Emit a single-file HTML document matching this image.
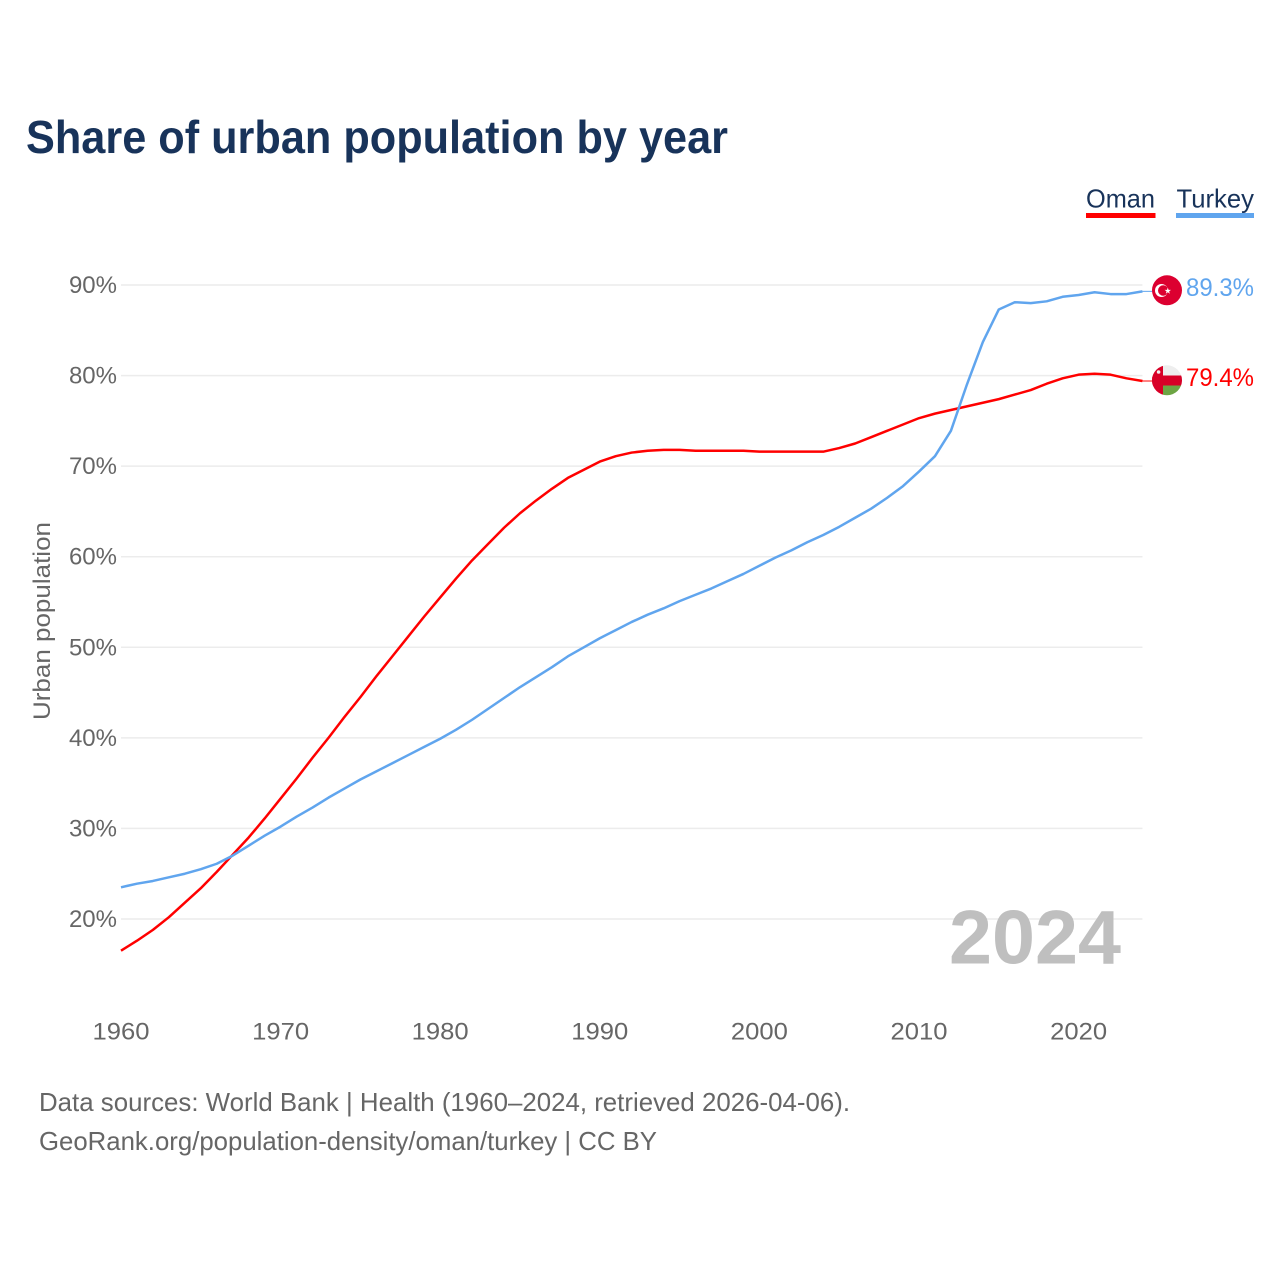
<!DOCTYPE html>
<html lang="en">
<head>
<meta charset="utf-8">
<title>Share of urban population by year</title>
<style>
html,body{margin:0;padding:0;background:#fff;width:1280px;height:1280px;overflow:hidden}
svg{display:block}
text{font-family:"Liberation Sans",sans-serif}
</style>
</head>
<body>
<svg id="chart" width="1280" height="1280" viewBox="0 0 1280 1280" xmlns="http://www.w3.org/2000/svg">
  <defs>
    <clipPath id="oman-clip"><circle cx="1167" cy="380.3" r="15"/></clipPath>
  </defs>
  <text x="26" y="153" font-size="46" font-weight="700" fill="#18335a" textLength="702" lengthAdjust="spacingAndGlyphs">Share of urban population by year</text>

  <g>
    <text x="1086" y="207.5" font-size="26" fill="#18335a" textLength="69" lengthAdjust="spacingAndGlyphs">Oman</text>
    <rect x="1086" y="213" width="69.5" height="5" fill="#ff0000"/>
  </g>
  <g>
    <text x="1176.5" y="207.5" font-size="26" fill="#18335a" textLength="77.5" lengthAdjust="spacingAndGlyphs">Turkey</text>
    <rect x="1176" y="213" width="78" height="5" fill="#60a5ee"/>
  </g>

  <g id="grid"></g>
  <g id="y-ticks"></g>
  <g id="x-ticks"></g>

  <text transform="translate(50,621) rotate(-90)" text-anchor="middle" font-size="24" fill="#666666" textLength="198" lengthAdjust="spacingAndGlyphs">Urban population</text>

  <text x="949" y="963.5" font-size="76" font-weight="700" fill="#bfbfbf" textLength="172" lengthAdjust="spacingAndGlyphs">2024</text>

  <g id="series"></g>

  <g>
    <circle cx="1167" cy="290.3" r="15" fill="#dc0030"/>
    <circle cx="1161.5" cy="290.5" r="6.5" fill="#ffffff"/>
    <circle cx="1163.2" cy="290.5" r="5.2" fill="#dc0030"/>
    <polygon points="1167.8,287.6 1168.6,289.9 1171,289.9 1169.1,291.4 1169.8,293.7 1167.8,292.3 1165.8,293.7 1166.5,291.4 1164.6,289.9 1167,289.9" fill="#ffffff"/>
  </g>
  <g clip-path="url(#oman-clip)">
    <rect x="1152" y="365" width="30" height="11" fill="#eeeeee"/>
    <rect x="1152" y="375.5" width="30" height="10" fill="#d80027"/>
    <rect x="1152" y="365" width="11" height="32" fill="#d80027"/>
    <rect x="1163" y="385.5" width="19" height="11" fill="#6da544"/>
    <circle cx="1158.6" cy="372" r="1.8" fill="#eeeeee"/>
  </g>

  <text x="1186" y="296" font-size="25" fill="#60a5ee" textLength="68" lengthAdjust="spacingAndGlyphs">89.3%</text>
  <text x="1186" y="386" font-size="25" fill="#ff0000" textLength="68" lengthAdjust="spacingAndGlyphs">79.4%</text>

  <text x="39" y="1111" font-size="26" fill="#666666" textLength="811" lengthAdjust="spacingAndGlyphs">Data sources: World Bank | Health (1960–2024, retrieved 2026-04-06).</text>
  <text x="39" y="1150" font-size="26" fill="#666666" textLength="618" lengthAdjust="spacingAndGlyphs">GeoRank.org/population-density/oman/turkey | CC BY</text>
</svg>
<script>
const years = [1960,1961,1962,1963,1964,1965,1966,1967,1968,1969,1970,1971,1972,1973,1974,1975,1976,1977,1978,1979,1980,1981,1982,1983,1984,1985,1986,1987,1988,1989,1990,1991,1992,1993,1994,1995,1996,1997,1998,1999,2000,2001,2002,2003,2004,2005,2006,2007,2008,2009,2010,2011,2012,2013,2014,2015,2016,2017,2018,2019,2020,2021,2022,2023,2024];
const omanValues = [16.5,17.6,18.8,20.2,21.8,23.4,25.2,27.1,29.0,31.1,33.3,35.5,37.8,40.0,42.3,44.5,46.8,49.0,51.2,53.4,55.5,57.6,59.6,61.4,63.2,64.8,66.2,67.5,68.7,69.6,70.5,71.1,71.5,71.7,71.8,71.8,71.7,71.7,71.7,71.7,71.6,71.6,71.6,71.6,71.6,72.0,72.5,73.2,73.9,74.6,75.3,75.8,76.2,76.6,77.0,77.4,77.9,78.4,79.1,79.7,80.1,80.2,80.1,79.7,79.4];
const turkeyValues = [23.5,23.9,24.2,24.6,25.0,25.5,26.1,27.0,28.1,29.2,30.2,31.3,32.3,33.4,34.4,35.4,36.3,37.2,38.1,39.0,39.9,40.9,42.0,43.2,44.4,45.6,46.7,47.8,49.0,50.0,51.0,51.9,52.8,53.6,54.3,55.1,55.8,56.5,57.3,58.1,59.0,59.9,60.7,61.6,62.4,63.3,64.3,65.3,66.5,67.8,69.4,71.1,73.9,79.0,83.7,87.3,88.1,88.0,88.2,88.7,88.9,89.2,89.0,89.0,89.3];
const yTickValues = [20,30,40,50,60,70,80,90];
const xTickValues = [1960,1970,1980,1990,2000,2010,2020];

const NS = 'http://www.w3.org/2000/svg';
function xScale(year){ return 121 + (year - 1960) * 15.96; }
function yScale(v){ return 919 - (v - 20) * 9.057; }

const gridG = document.getElementById('grid');
const yG = document.getElementById('y-ticks');
const xG = document.getElementById('x-ticks');
const seriesG = document.getElementById('series');

yTickValues.forEach(function(v){
  const line = document.createElementNS(NS,'line');
  
  
  line.setAttribute('x1', 121);
  line.setAttribute('x2', xScale(2024));
  line.setAttribute('y1', yScale(v));
  line.setAttribute('y2', yScale(v));
  line.setAttribute('stroke', '#ececec');
  line.setAttribute('stroke-width', '1.5');
  gridG.appendChild(line);

  const t = document.createElementNS(NS,'text');
  
  
  t.setAttribute('x', 117);
  t.setAttribute('y', yScale(v) + 8);
  t.setAttribute('text-anchor', 'end');
  t.setAttribute('font-size', '24');
  t.setAttribute('fill', '#666666');
  t.textContent = v + '%';
  yG.appendChild(t);
});

xTickValues.forEach(function(y){
  const t = document.createElementNS(NS,'text');
  
  
  t.setAttribute('x', xScale(y));
  t.setAttribute('y', 1039.5);
  t.setAttribute('text-anchor', 'middle');
  t.setAttribute('font-size', '24.5');
  t.setAttribute('textLength', '57');
  t.setAttribute('lengthAdjust', 'spacingAndGlyphs');
  t.setAttribute('fill', '#666666');
  t.textContent = y;
  xG.appendChild(t);
});

function drawSeries(values, color, name){
  const d = values.map(function(v,i){
    return (i ? 'L' : 'M') + xScale(years[i]).toFixed(2) + ' ' + yScale(v).toFixed(2);
  }).join(' ');
  const p = document.createElementNS(NS,'path');
  
  
  p.setAttribute('d', d);
  p.setAttribute('fill', 'none');
  p.setAttribute('stroke', color);
  p.setAttribute('stroke-width', '2.5');
  p.setAttribute('stroke-linejoin', 'round');
  seriesG.appendChild(p);

  const last = values[values.length - 1];
  const c = document.createElementNS(NS,'line');
  
  
  c.setAttribute('x1', xScale(years[years.length - 1]));
  c.setAttribute('x2', 1153);
  c.setAttribute('y1', yScale(last));
  c.setAttribute('y2', yScale(last));
  c.setAttribute('stroke', color);
  c.setAttribute('stroke-width', '1');
  seriesG.appendChild(c);
}
drawSeries(omanValues, '#ff0000', 'line-oman');
drawSeries(turkeyValues, '#60a5ee', 'line-turkey');
</script>
</body>
</html>
